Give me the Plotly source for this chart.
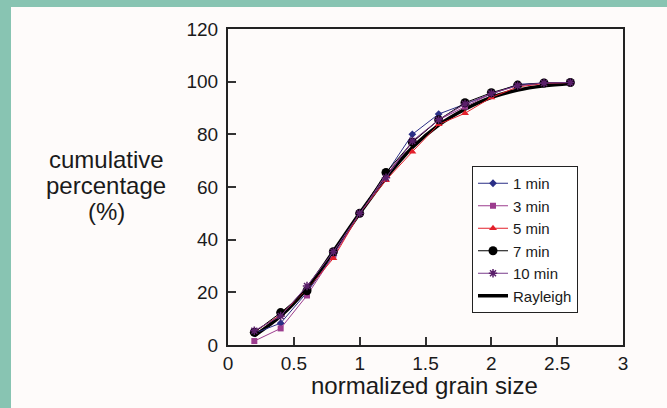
import plotly.graph_objects as go

grain_size = [0.2, 0.4, 0.6, 0.8, 1.0, 1.2, 1.4, 1.6, 1.8, 2.0, 2.2, 2.4, 2.6]
min1 = [4.4, 8.3, 20.0, 34.0, 50.0, 65.0, 80.0, 87.7, 91.5, 95.5, 99.0, 99.5, 99.7]
min3 = [1.5, 6.3, 18.8, 34.0, 50.0, 64.5, 77.0, 85.5, 90.5, 95.5, 98.5, 99.5, 99.7]
min5 = [5.0, 11.5, 21.0, 32.9, 50.0, 62.6, 73.4, 83.8, 88.0, 94.0, 98.0, 99.3, 99.7]
min7 = [4.8, 12.3, 20.6, 35.4, 50.0, 65.5, 77.0, 85.5, 92.0, 95.8, 98.7, 99.5, 99.7]
min10 = [5.4, 11.0, 22.4, 35.4, 50.0, 63.5, 77.5, 85.5, 91.5, 95.5, 98.5, 99.5, 99.7]
rayleigh = [3.5, 11.0, 21.5, 35.5, 50.0, 63.5, 75.0, 83.5, 89.5, 94.0, 96.8, 98.4, 99.3]

x_ticks = [0, 0.5, 1, 1.5, 2, 2.5, 3]
x_tick_labels = ["0", "0.5", "1", "1.5", "2", "2.5", "3"]
y_ticks = [0, 20, 40, 60, 80, 100, 120]

FONT = "Liberation Sans, Arial, sans-serif"
W, H = 667, 408
ML, MR, MT, MB = 228, 44, 29, 63
PW, PH = W - ML - MR, H - MT - MB

fig = go.Figure()

fig.add_trace(go.Scatter(
    x=grain_size, y=rayleigh, name="Rayleigh", mode="lines",
    line=dict(color="#000000", width=3.5, shape="spline"), legendrank=6))

series = [
    ("1 min", min1, "#2B2F86", "diamond", 6, 1),
    ("3 min", min3, "#9C3C8E", "square", 6, 2),
    ("5 min", min5, "#E3202B", "triangle-up", 7, 3),
    ("7 min", min7, "#000000", "circle", 9, 4),
]
for name, ys, col, sym, size, rank in series:
    fig.add_trace(go.Scatter(
        x=grain_size, y=ys, name=name, mode="lines+markers",
        line=dict(color=col, width=1),
        marker=dict(symbol=sym, size=size, color=col),
        legendrank=rank))

fig.add_trace(go.Scatter(
    x=grain_size, y=min10, name="10 min", mode="lines+markers",
    line=dict(color="#7A3C8C", width=1),
    marker=dict(symbol="asterisk-open", size=7, color="#5A1F6A",
                line=dict(color="#5A1F6A", width=1.5)),
    legendrank=5))

def px_to_paper_x(px):
    return (px - ML) / PW

def py_to_paper_y(py):
    return (H - MB - py) / PH

shapes = [
    dict(type="rect", xref="paper", yref="paper", layer="below",
         x0=px_to_paper_x(0), x1=px_to_paper_x(11),
         y0=py_to_paper_y(H), y1=py_to_paper_y(0),
         fillcolor="#88C4B2", line=dict(width=0)),
    dict(type="rect", xref="paper", yref="paper", layer="below",
         x0=px_to_paper_x(0), x1=px_to_paper_x(W),
         y0=py_to_paper_y(7), y1=py_to_paper_y(0),
         fillcolor="#88C4B2", line=dict(width=0)),
]

annotations = []
for txt, py in [("cumulative", 159), ("percentage", 185), ("(%)", 211)]:
    annotations.append(dict(
        text=txt, xref="paper", yref="paper",
        x=px_to_paper_x(106), y=py_to_paper_y(py),
        xanchor="center", yanchor="middle", showarrow=False,
        font=dict(family=FONT, size=24, color="#1a1a1a")))
annotations.append(dict(
    text="normalized grain size", xref="paper", yref="paper",
    x=px_to_paper_x(424), y=py_to_paper_y(385),
    xanchor="center", yanchor="middle", showarrow=False,
    font=dict(family=FONT, size=24, color="#1a1a1a")))

axis_common = dict(
    showline=True, linecolor="#222222", linewidth=2, mirror=True,
    ticks="inside", ticklen=8, tickwidth=1.5, tickcolor="#333333",
    showgrid=False, zeroline=False,
    tickfont=dict(family=FONT, size=19, color="#1a1a1a"),
)

fig.update_layout(
    width=W, height=H, autosize=False,
    margin=dict(l=ML, r=MR, t=MT, b=MB),
    paper_bgcolor="#FEFBFA", plot_bgcolor="#FEFBFA",
    xaxis=dict(range=[0, 3], tickvals=x_ticks, ticktext=x_tick_labels, **axis_common),
    yaxis=dict(range=[0, 120], tickvals=y_ticks, **axis_common),
    shapes=shapes, annotations=annotations,
    showlegend=True,
    legend=dict(
        x=px_to_paper_x(472), y=py_to_paper_y(166), xanchor="left", yanchor="top",
        bgcolor="#FFFFFF", bordercolor="#222222", borderwidth=1,
        font=dict(family=FONT, size=15, color="#1a1a1a"),
        itemwidth=30, tracegroupgap=0,
    ),
)
fig.update_xaxes(ticklabelstandoff=0)
fig.update_yaxes(ticklabelstandoff=4)

fig.write_html("out.html")
